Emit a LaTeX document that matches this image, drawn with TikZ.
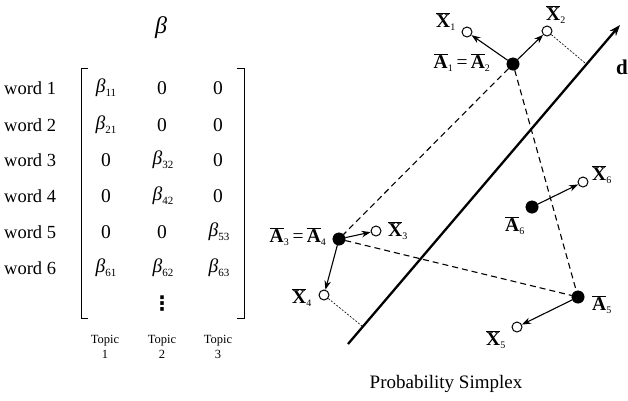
\documentclass[tikz,border=0pt]{standalone}
\usepackage{fontspec}
\setmainfont{Liberation Serif}
\newfontfamily\dvfont{DejaVu Sans}
\usetikzlibrary{arrows.meta}
\newcommand\myvec[2]{$\overline{\hbox{\bfseries #1}}_{\hbox{\fontsize{10}{10}\selectfont #2}}$}
\newcommand\mybeta[1]{{\itshape β}\raisebox{-0.45ex}{\fontsize{11}{11}\selectfont #1}}
\tikzset{
 full/.style={circle,fill=black,draw=black,inner sep=0pt,minimum size=12.5pt},
 hollow/.style={circle,fill=white,draw=black,line width=1pt,inner sep=0pt,minimum size=10pt},
 vec/.style={-{Stealth[length=9pt,width=6.5pt]},line width=1.1pt},
 link/.style={dash pattern=on 6pt off 4pt, line width=1.1pt},
 proj/.style={dash pattern=on 2pt off 1.5pt, line width=0.6pt},
 lab/.style={font=\fontsize{19.5}{19.5}\selectfont, inner sep=0pt},
 word/.style={font=\fontsize{18.5}{20}\selectfont, inner sep=0pt},
 ent/.style={font=\fontsize{19.5}{20}\selectfont, inner sep=0pt},
 topic/.style={font=\fontsize{12.5}{14.5}\selectfont, align=center, inner sep=0pt},
 brack/.style={line width=1pt}
}
\begin{document}
\begin{tikzpicture}[x=1pt,y=-1pt]
\useasboundingbox (0,0) rectangle (628,400);
% ---------- matrix ----------
\node[font=\fontsize{24}{24}\selectfont\itshape] (beta) at (161,28) {β};
\draw[brack] (88,68) -- (81,68) -- (81,318) -- (88,318);
\draw[brack] (237,68) -- (244,68) -- (244,318) -- (237,318);
\foreach \i/\y in {1/88,2/125,3/160,4/196,5/232,6/268}
  \node[word,anchor=west] (w\i) at (4,\y) {word \i};
\node[ent] (e11) at (106,88) {\mybeta{11}};
\node[ent] (e12) at (162,88) {0};
\node[ent] (e13) at (218,88) {0};
\node[ent] (e21) at (106,125) {\mybeta{21}};
\node[ent] (e22) at (162,125) {0};
\node[ent] (e23) at (218,125) {0};
\node[ent] (e31) at (106,160) {0};
\node[ent] (e32) at (163,160) {\mybeta{32}};
\node[ent] (e33) at (218,160) {0};
\node[ent] (e41) at (106,196) {0};
\node[ent] (e42) at (163,196) {\mybeta{42}};
\node[ent] (e43) at (218,196) {0};
\node[ent] (e51) at (106,232) {0};
\node[ent] (e52) at (162,232) {0};
\node[ent] (e53) at (219,232) {\mybeta{53}};
\node[ent] (e61) at (106,268) {\mybeta{61}};
\node[ent] (e62) at (163,268) {\mybeta{62}};
\node[ent] (e63) at (219,268) {\mybeta{63}};
\node[font=\fontsize{20}{20}\selectfont\dvfont\bfseries, inner sep=0pt] (vd) at (162,304) {⋮};
\node[topic] (t1) at (105,347) {Topic\\1};
\node[topic] (t2) at (162,347) {Topic\\2};
\node[topic] (t3) at (218,347) {Topic\\3};
% ---------- simplex ----------
\coordinate (ds) at (348,344);
\coordinate (de) at (620,25);
\draw[line width=2.3pt,-{Stealth[length=11pt,width=8pt]}] (ds) -- (de);
\node[font=\fontsize{21}{21}\selectfont\bfseries] (d) at (622,67) {d};
\coordinate (f2) at (585,63);
\coordinate (f4) at (362,326);
\node[full] (A1) at (513,64) {};
\node[full] (A3) at (339,239) {};
\node[full] (A5) at (578,297) {};
\node[full] (A6) at (532,207) {};
\node[hollow] (X1) at (467,32) {};
\node[hollow] (X2) at (547,31) {};
\node[hollow] (X3) at (376,231) {};
\node[hollow] (X4) at (324,295) {};
\node[hollow] (X5) at (517,327) {};
\node[hollow] (X6) at (583,182) {};
\draw[link] (A1) -- (A3);
\draw[link] (A1) -- (A5);
\draw[link] (A3) -- (A5);
\draw[proj] (X2) -- (f2);
\draw[proj] (X4) -- (f4);
\draw[vec] (A1) -- (X1);
\draw[vec] (A1) -- (X2);
\draw[vec] (A3) -- (X3);
\draw[vec] (A3) -- (X4);
\draw[vec] (A5) -- (X5);
\draw[vec] (A6) -- (X6);
\node[lab] (lX1) at (446,22) {\myvec{X}{1}};
\node[lab] (lX2) at (556,15) {\myvec{X}{2}};
\node[lab] (lX3) at (398,231) {\myvec{X}{3}};
\node[lab] (lX4) at (302,298) {\myvec{X}{4}};
\node[lab] (lX5) at (496,340) {\myvec{X}{5}};
\node[lab] (lX6) at (602,175) {\myvec{X}{6}};
\node[lab] (lA12) at (462,63) {\myvec{A}{1}\,=\,\myvec{A}{2}};
\node[lab] (lA34) at (298,237) {\myvec{A}{3}\,=\,\myvec{A}{4}};
\node[lab] (lA5) at (602,305) {\myvec{A}{5}};
\node[lab] (lA6) at (515,226) {\myvec{A}{6}};
\node[font=\fontsize{19}{20}\selectfont, inner sep=0pt] (ps) at (446,384) {Probability Simplex};
\end{tikzpicture}
\end{document}
